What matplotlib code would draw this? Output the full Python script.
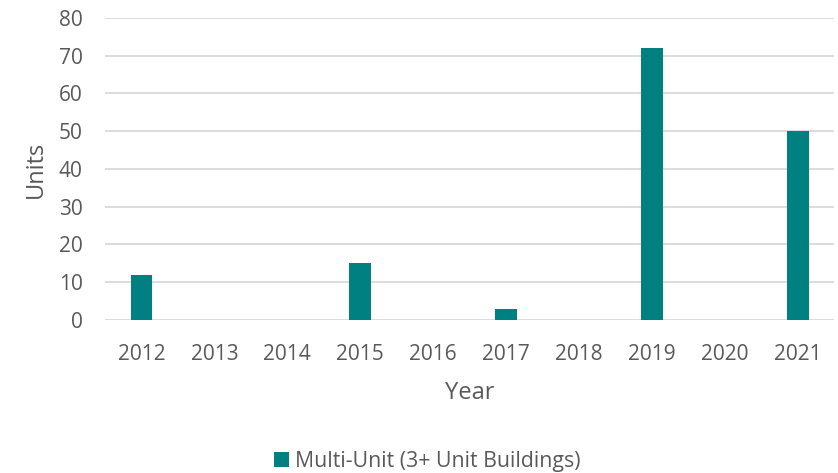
import matplotlib.pyplot as plt
import numpy as np

years = ['2012', '2013', '2014', '2015', '2016', '2017', '2018', '2019', '2020', '2021']
units = [12, 0, 0, 15, 0, 3, 0, 72, 0, 50]

plt.rcParams['font.family'] = ['Open Sans', 'DejaVu Sans']

fig = plt.figure(figsize=(8.38, 4.73), dpi=100)
ax = fig.add_axes([0.1253, 0.3235, 0.8705, 0.6385])

x = np.arange(len(years))
ax.bar(x, units, width=0.3, color='#008080', label='Multi-Unit (3+ Unit Buildings)', zorder=3)

ax.set_xlim(-0.5, len(years) - 0.5)
ax.set_ylim(0, 80)
ax.set_yticks(range(0, 81, 10))
ax.set_xticks(x)
ax.set_xticklabels(years)
ax.grid(axis='y', color='#d9d9d9', linewidth=1.3, zorder=0)
for s in ax.spines.values():
    s.set_visible(False)
ax.tick_params(length=0, labelsize=15, labelcolor='#595959')
ax.tick_params(axis='y', pad=16)
ax.tick_params(axis='x', pad=17)

ax.set_xlabel('Year', fontsize=17, color='#595959', labelpad=12)
ax.set_ylabel('Units', fontsize=17, color='#595959', labelpad=8)

fig.legend(loc='center', bbox_to_anchor=(0.51, 0.025), frameon=False, fontsize=15.3,
           labelcolor='#595959', handlelength=0.7, handleheight=0.7, handletextpad=0.3)

fig.savefig('out.png', dpi=100)
